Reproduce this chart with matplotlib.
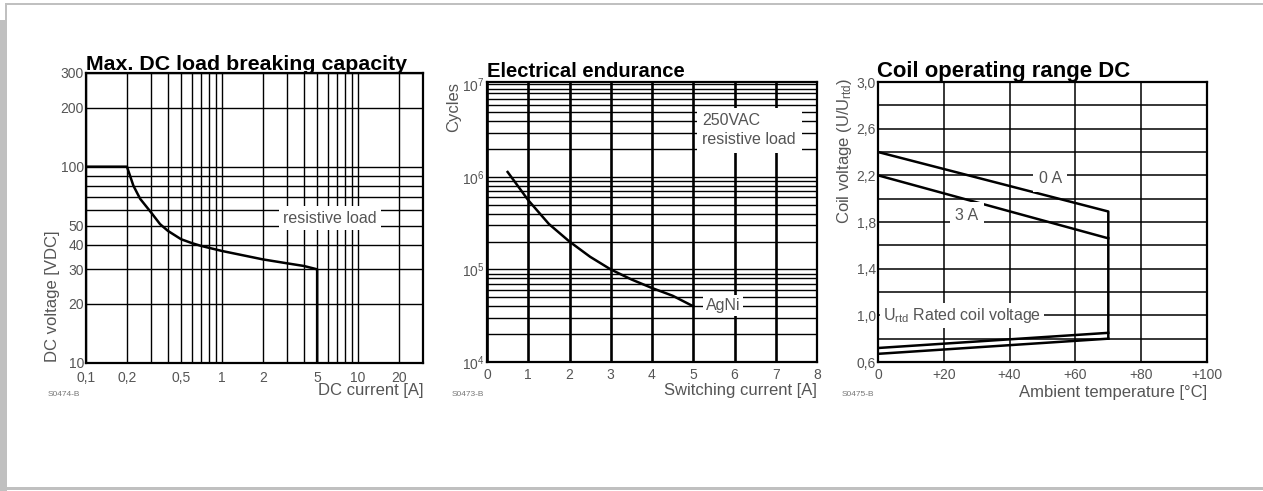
import matplotlib
matplotlib.use("Agg")
import matplotlib.pyplot as plt
from matplotlib.patches import Rectangle
from matplotlib.ticker import LogLocator, MultipleLocator, NullFormatter

W, H = 1263, 491

# Max. DC load breaking capacity
dc_current = [0.1, 0.2, 0.223, 0.25, 0.3, 0.35, 0.4, 0.5, 0.6, 0.7, 1.0, 2.0, 3.0, 4.0, 5.0, 5.0]
dc_voltage = [100, 100, 80, 68.6, 58.6, 51, 47.1, 42.7, 40.8, 39.5, 37.2, 33.7, 32.2, 31.2, 30, 10]
dc_xticks = [0.1, 0.2, 0.5, 1, 2, 5, 10, 20]
dc_xlabels = ["0,1", "0,2", "0,5", "1", "2", "5", "10", "20"]
dc_yticks = [10, 20, 30, 40, 50, 100, 200, 300]

# Electrical endurance
sw_current = [0.5, 1.0, 1.5, 2.0, 2.5, 3.0, 3.5, 4.0, 4.5, 5.0]
cycles = [1.13e6, 5.6e5, 3.1e5, 2.0e5, 1.37e5, 1.0e5, 7.8e4, 6.3e4, 5.2e4, 4.0e4]
cyc_yticks = [1e4, 1e5, 1e6, 1e7]
cyc_ylabels = ["$10^4$", "$10^5$", "$10^6$", "$10^7$"]

# Coil operating range DC
temp_0a = [0, 70, 70]
coil_0a = [2.4, 1.89, 0.80]
temp_3a = [0, 70]
coil_3a = [2.2, 1.66]
temp_low = [0, 70]
coil_low_a = [0.72, 0.85]
coil_low_b = [0.67, 0.80]
temp_xticks = [0, 20, 40, 60, 80, 100]
temp_xlabels = ["0", "+20", "+40", "+60", "+80", "+100"]
coil_yticks = [0.6, 1.0, 1.4, 1.8, 2.2, 2.6, 3.0]
coil_ylabels = ["0,6", "1,0", "1,4", "1,8", "2,2", "2,6", "3,0"]

plt.rcParams["font.family"] = ["Liberation Sans", "DejaVu Sans"]
plt.rcParams["mathtext.fontset"] = "custom"
plt.rcParams["mathtext.rm"] = "Liberation Sans"
plt.rcParams["mathtext.default"] = "rm"

GRAY = "#555555"
BORDER = "#c0c0c0"


def fx(x):
    return x / W


def fy(y):
    return 1 - y / H


def box(left, top, right, bottom):
    return [fx(left), fy(bottom), fx(right - left), (bottom - top) / H]


fig = plt.figure(figsize=(W / 100, H / 100), dpi=100)

# gray frame of the page
for (x0, y0, x1, y1) in [(6, 3, W, 5), (0, 20, 7, H), (5, 3, 7, 20), (0, 487, W, 490)]:
    fig.add_artist(Rectangle((fx(x0), fy(y1)), fx(x1 - x0), (y1 - y0) / H,
                             transform=fig.transFigure, color=BORDER, lw=0))


def style(ax, xpad=4):
    for s in ax.spines.values():
        s.set_linewidth(1.6)
    ax.tick_params(which="both", length=0, labelsize=10, labelcolor=GRAY)
    ax.tick_params(axis="y", pad=1.5)
    ax.tick_params(axis="x", pad=xpad)


white = dict(facecolor="white", edgecolor="none", pad=2)
ANN = 11.5

# ---- panel 1
ax1 = fig.add_axes(box(86, 73, 423, 363))
ax1.set_xscale("log")
ax1.set_yscale("log")
ax1.set_xlim(0.1, 30)
ax1.set_ylim(10, 300)
ax1.set_xticks(dc_xticks, dc_xlabels)
ax1.set_yticks(dc_yticks, [str(v) for v in dc_yticks])
ax1.xaxis.set_minor_locator(LogLocator(subs=range(2, 10)))
ax1.yaxis.set_minor_locator(LogLocator(subs=range(2, 10)))
ax1.xaxis.set_minor_formatter(NullFormatter())
ax1.yaxis.set_minor_formatter(NullFormatter())
ax1.grid(which="both", color="black", lw=1.0)
ax1.plot(dc_current, dc_voltage, color="black", lw=1.8)
ax1.text(6.2, 54.7, "resistive load", fontsize=ANN, color=GRAY, ha="center", va="center",
         bbox=dict(facecolor="white", edgecolor="none", pad=3))
style(ax1, xpad=6)

# ---- panel 2
ax2 = fig.add_axes(box(487, 82, 817, 362))
ax2.set_yscale("log")
ax2.set_xlim(0, 8)
ax2.set_ylim(1e4, 1.06e7)
ax2.set_xticks(range(0, 9))
ax2.set_yticks(cyc_yticks, cyc_ylabels)
ax2.yaxis.set_minor_locator(LogLocator(subs=range(2, 10)))
ax2.yaxis.set_minor_formatter(NullFormatter())
ax2.grid(axis="x", color="black", lw=1.9)
ax2.grid(axis="y", which="both", color="black", lw=1.0)
ax2.plot(sw_current, cycles, color="black", lw=1.8)
ax2.text(5.22, 3.2e6, "250VAC\nresistive load", fontsize=ANN, color=GRAY, ha="left", va="center",
         linespacing=1.3, bbox=dict(facecolor="white", edgecolor="none", pad=4))
ax2.text(5.3, 4.1e4, "AgNi", fontsize=ANN, color=GRAY, ha="left", va="center", bbox=white)
style(ax2)

# ---- panel 3
ax3 = fig.add_axes(box(878, 82, 1207, 362))
ax3.set_xlim(0, 100)
ax3.set_ylim(0.6, 3.0)
ax3.set_xticks(temp_xticks, temp_xlabels)
ax3.set_yticks(coil_yticks, coil_ylabels)
ax3.yaxis.set_minor_locator(MultipleLocator(0.2))
ax3.grid(which="both", color="black", lw=1.1)
for xs, ys in [(temp_0a, coil_0a), (temp_3a, coil_3a), (temp_low, coil_low_a), (temp_low, coil_low_b)]:
    ax3.plot(xs, ys, color="black", lw=1.8)
ax3.text(52.3, 2.17, "0 A", fontsize=ANN, color=GRAY, ha="center", va="center",
         bbox=dict(facecolor="white", edgecolor="none", pad=4))
ax3.text(27, 1.86, "3 A", fontsize=ANN, color=GRAY, ha="center", va="center",
         bbox=dict(facecolor="white", edgecolor="none", pad=4))
ax3.text(1.5, 1.0, "U$_{rtd}$ Rated coil voltage", fontsize=ANN, color=GRAY, ha="left", va="center",
         bbox=white)
style(ax3)

# titles
title_font = dict(family=["Liberation Sans", "DejaVu Sans"], weight="bold", va="baseline")
fig.text(fx(86), fy(70), "Max. DC load breaking capacity", fontsize=15.4, **title_font)
fig.text(fx(487), fy(77), "Electrical endurance", fontsize=14.6, **title_font)
fig.text(fx(877), fy(77), "Coil operating range DC", fontsize=15.9, **title_font)

# axis labels
lab = dict(fontsize=12, color=GRAY)
fig.text(fx(423), fy(391), "DC current [A]", ha="right", va="center", **lab)
fig.text(fx(817), fy(390), "Switching current [A]", ha="right", va="center", **lab)
fig.text(fx(1207), fy(392), "Ambient temperature [°C]", ha="right", va="center", **lab)
fig.text(fx(53), fy(362), "DC voltage [VDC]", rotation=90, ha="center", va="bottom", **lab)
fig.text(fx(454), fy(82), "Cycles", rotation=90, ha="center", va="top", **lab)
fig.text(fx(845), fy(78), "Coil voltage (U/U$_{rtd}$)", rotation=90, ha="center", va="top", **lab)

# drawing numbers
for x, s in [(48, "S0474-B"), (452, "S0473-B"), (842, "S0475-B")]:
    fig.text(fx(x), fy(395), s, fontsize=6, color="#777777", ha="left", va="center")

fig.savefig("out.png", dpi=100)
